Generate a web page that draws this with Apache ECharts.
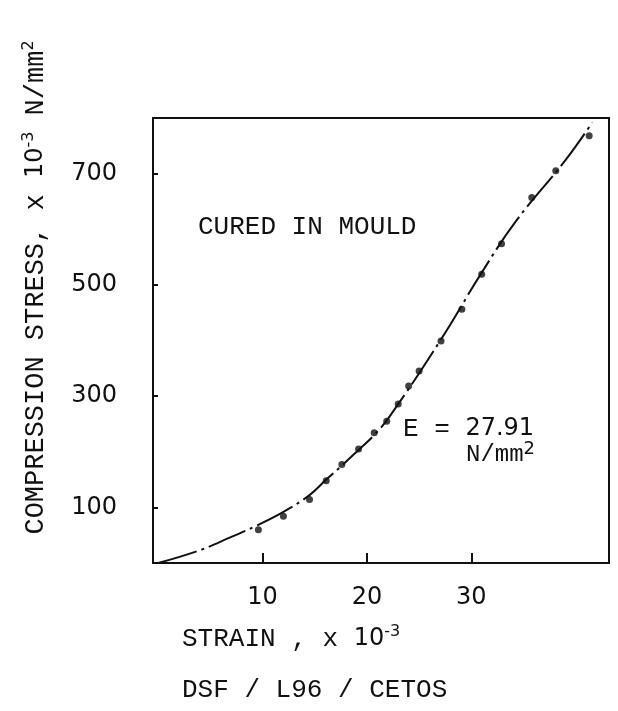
<!DOCTYPE html>
<html>
<head>
<meta charset="utf-8">
<script src="https://cdn.jsdelivr.net/npm/echarts@6/dist/echarts.min.js"></script>
<style>
html,body{margin:0;padding:0;background:#fff;}
#c{width:618px;height:711px;}
</style>
</head>
<body>
<div id="c"></div>
<script>
// Measured points (strain x10^-3, stress x10^-3 N/mm^2)
var strainPts = [9.6, 12.0, 14.5, 16.1, 17.6, 19.2, 20.7, 21.9, 23.0, 24.0, 25.0, 27.1, 29.1, 31.0, 32.9, 35.8, 38.1, 41.3];
var stressPts = [60, 84, 114, 148, 177, 205, 234, 255, 286, 318, 345, 399, 456, 519, 574, 657, 705, 768];
// Fitted curve
var curveX = [0, 4.0, 6.9, 9.4, 12.0, 14.5, 16.1, 17.7, 19.3, 20.6, 22.2, 27.1, 31.0, 34.3, 39.1, 41.6];
var curveY = [0, 23, 46, 67, 92, 122, 150, 177, 205, 228, 264, 402, 522, 615, 726, 792];
// Tick labels
var xTicks = [10, 20, 30];
var yTicks = [100, 300, 500, 700];

var MONO = '"Liberation Mono", "DejaVu Sans Mono", monospace';
var SANS = '"DejaVu Sans", "Noto Sans", sans-serif';
var INK = '#111';

var pts = strainPts.map(function (x, i) { return [x, stressPts[i]]; });
var curve = curveX.map(function (x, i) { return [x, curveY[i]]; });

var chart = echarts.init(document.getElementById('c'));
chart.setOption({
  backgroundColor: '#fff',
  animation: false,
  title: {
    text: 'DSF / L96 / CETOS',
    left: 182, top: 677, padding: 0,
    textStyle: { fontFamily: MONO, fontSize: 26, fontWeight: 'normal', color: INK }
  },
  grid: {
    left: 153, right: 9, top: 118, bottom: 148,
    show: true, borderColor: INK, borderWidth: 2, backgroundColor: 'transparent'
  },
  xAxis: {
    type: 'value', min: -0.5, max: 43.2,
    splitLine: { show: false },
    axisLine: { onZero: false, lineStyle: { color: INK, width: 2 } },
    axisTick: { inside: true, length: 10, customValues: xTicks, lineStyle: { color: INK, width: 2 } },
    axisLabel: { customValues: xTicks, margin: 23, fontFamily: SANS, fontSize: 24, color: INK },
    name: '{m|STRAIN , x }{n|10}{s|-3}',
    nameLocation: 'start',
    nameGap: 0,
    nameTextStyle: {
      align: 'left', verticalAlign: 'top', padding: [61, 0, 0, 29],
      rich: {
        m: { fontFamily: MONO, fontSize: 26, color: INK, lineHeight: 30 },
        n: { fontFamily: SANS, fontSize: 24, color: INK, lineHeight: 30 },
        s: { fontFamily: SANS, fontSize: 16, color: INK, lineHeight: 16, verticalAlign: 'top' }
      }
    }
  },
  yAxis: {
    type: 'value', min: 0, max: 800,
    splitLine: { show: false },
    axisLine: { onZero: false, lineStyle: { color: INK, width: 2 } },
    axisTick: { inside: true, length: 5, customValues: yTicks, lineStyle: { color: INK, width: 2 } },
    axisLabel: { customValues: yTicks, margin: 36, fontFamily: SANS, fontSize: 24, color: INK },
    name: '{m|COMPRESSION STRESS, x }{n|10}{s|-3}{m| N/mm}{s|2}',
    nameLocation: 'middle',
    nameGap: 102,
    nameTextStyle: {
      padding: [0, 0, 0, 106],
      rich: {
        m: { fontFamily: MONO, fontSize: 27, color: INK, lineHeight: 30 },
        n: { fontFamily: SANS, fontSize: 24, color: INK, lineHeight: 30 },
        s: { fontFamily: SANS, fontSize: 16, color: INK, lineHeight: 16, verticalAlign: 'top' }
      }
    }
  },
  graphic: [
    {
      type: 'text', left: 198, top: 214,
      style: { text: 'CURED IN MOULD', font: '26px ' + MONO, fill: INK }
    },
    {
      type: 'text', left: 403, top: 416,
      style: {
        text: '{m|E = }{n|27.91}',
        rich: {
          m: { fontFamily: MONO, fontSize: 26, fill: INK },
          n: { fontFamily: SANS, fontSize: 24, fill: INK }
        }
      }
    },
    {
      type: 'text', left: 466, top: 440,
      style: {
        text: '{m|N/mm}{s|2}',
        rich: {
          m: { fontFamily: MONO, fontSize: 24, fill: INK, lineHeight: 30 },
          s: { fontFamily: SANS, fontSize: 18, fill: INK, lineHeight: 18, verticalAlign: 'top' }
        }
      }
    }
  ],
  series: [
    {
      type: 'line', data: curve, smooth: 0.4, showSymbol: false, silent: true,
      lineStyle: { color: INK, width: 2, type: [40, 5, 3, 5] },
      z: 2
    },
    {
      type: 'scatter', data: pts, symbol: 'circle', symbolSize: 7,
      itemStyle: { color: INK }, silent: true, z: 3
    }
  ]
});
</script>
</body>
</html>
